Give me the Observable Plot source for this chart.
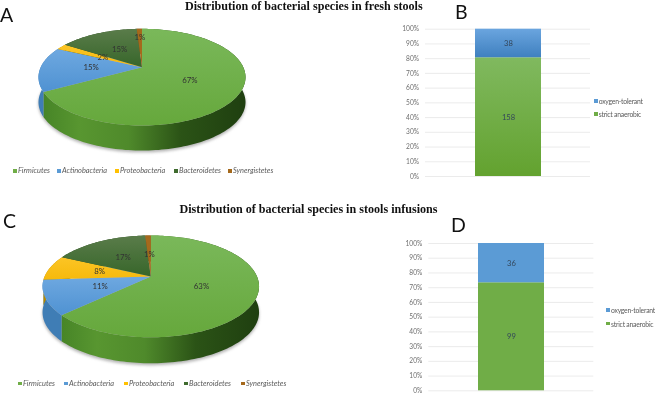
<!DOCTYPE html>
<html>
<head>
<meta charset="utf-8">
<script src="https://cdn.jsdelivr.net/npm/d3@7"></script>
<script src="https://cdn.jsdelivr.net/npm/@observablehq/plot@0.6"></script>
<style>
  html, body { margin: 0; padding: 0; background: #fff; }
  #page { position: relative; width: 655px; height: 393px; overflow: hidden; font-family: Lato, sans-serif; filter: blur(.35px); }
  #page > * { position: absolute; }
  .title { font: bold 12.1px "Liberation Serif", serif; color: #111; white-space: nowrap; }
  .letter { font: 19.5px Lato, sans-serif; color: #111; line-height: 20px; }
  .key { font-size: 6.8px; letter-spacing: -.22px; color: #5a5a5a; white-space: nowrap; line-height: 8px; }
  .key i.sw { position: absolute; left: -4.6px; top: 2px; width: 3.6px; height: 3.6px; }
  .key.sp { font-size: 7.4px; letter-spacing: 0; font-style: italic; }
</style>
</head>
<body>
<svg width="0" height="0" style="position:absolute">
  <defs>
    <linearGradient id="topGreen" x1="0" y1="0" x2="0" y2="1"><stop offset="0" stop-color="#7ab85a"/><stop offset="1" stop-color="#66a83c"/></linearGradient>
    <linearGradient id="topBlue" x1="0" y1="0" x2="0" y2="1"><stop offset="0" stop-color="#6ea8e0"/><stop offset="1" stop-color="#4f92d2"/></linearGradient>
    <linearGradient id="topYellow" x1="0" y1="0" x2="0" y2="1"><stop offset="0" stop-color="#fcc525"/><stop offset="1" stop-color="#f6b90c"/></linearGradient>
    <linearGradient id="topDark" x1="0" y1="0" x2="0" y2="1"><stop offset="0" stop-color="#5a7c4a"/><stop offset="1" stop-color="#37662a"/></linearGradient>
    <linearGradient id="sideGreen" x1="0" y1="0" x2="1" y2="0">
      <stop offset="0" stop-color="#478527"/><stop offset=".18" stop-color="#589630"/><stop offset=".42" stop-color="#4f8a2b"/>
      <stop offset=".68" stop-color="#2b5316"/><stop offset="1" stop-color="#1f3f10"/>
    </linearGradient>
    <linearGradient id="barBlueB" x1="0" y1="0" x2="0" y2="1"><stop offset="0" stop-color="#6aa5df"/><stop offset="1" stop-color="#3f80bf"/></linearGradient>
    <linearGradient id="barGreenB" x1="0" y1="0" x2="0" y2="1"><stop offset="0" stop-color="#80b95f"/><stop offset="1" stop-color="#63a22f"/></linearGradient>
  </defs>
</svg>
<div id="page"></div>
<script>
// ---- values ----
const species = ["Firmicutes", "Actinobacteria", "Proteobacteria", "Bacteroidetes", "Synergistetes"];
const freshShares = [67, 15, 2, 15, 1];
const infusionShares = [63, 11, 8, 17, 1];
const oxygenGroups = ["strict anaerobic", "oxygen-tolerant"];
const freshCounts = [158, 38];
const infusionCounts = [99, 36];
const percentTicks = [0, .1, .2, .3, .4, .5, .6, .7, .8, .9, 1];

// ---- styles ----
const speciesColors = ["#70ad47", "#5b9bd5", "#ffc000", "#3f6b2e", "#a5691c"];
const topFills = ["url(#topGreen)", "url(#topBlue)", "url(#topYellow)", "url(#topDark)", "#a5691c"];
const sideFills = ["url(#sideGreen)", "#3f7db5", "#b58900", "#2b4a20", "#7a4d14"];
const font = "Lato, sans-serif";
const page = document.getElementById("page");

function place(node, left, top) {
  node.style.left = left + "px";
  node.style.top = top + "px";
  page.append(node);
}
function html(cls, text, left, top) {
  const d = document.createElement("div");
  d.className = cls;
  d.textContent = text;
  place(d, left, top);
  return d;
}
function key(cls, text, color, left, top) {
  const d = html("key " + cls, text, left, top);
  const s = document.createElement("i");
  s.className = "sw";
  s.style.background = color;
  d.prepend(s);
}

// A tilted disc seen in perspective: u,v on the unit circle, k the tilt strength.
function project(u, v, k) {
  const w = 1 - k * v;
  return {x: u / w, y: v / w};
}

function pie(shares, o) {
  const arcs = d3.pie().sort(null)(shares);
  const rim = [];   // rim polygons of the top faces
  const side = [];  // wall polygons below them
  const labels = [];
  const step = Math.PI / 120;
  arcs.forEach((a, i) => {
    const name = species[i];
    const angles = d3.range(a.startAngle, a.endAngle, step).concat(a.endAngle);
    const pts = angles.map(t => project(Math.sin(t), -Math.cos(t), o.k));
    rim.push({key: name, x: 0, y: 0});
    pts.forEach(p => rim.push({key: name, x: p.x, y: p.y}));
    pts.forEach(p => side.push({key: name + " side", x: p.x, y: p.y}));
    pts.slice().reverse().forEach(p => side.push({key: name + " side", x: p.x, y: p.y + o.depth}));
    const mid = (a.startAngle + a.endAngle) / 2;
    const r = o.labelRadius[i];
    const c = project(r * Math.sin(mid), -r * Math.cos(mid), o.k);
    labels.push({x: c.x, y: c.y, text: shares[i] + "%"});
  });
  const outline = d3.range(0, 2 * Math.PI, step).map(t => {
    const p = project(Math.sin(t), -Math.cos(t), o.k);
    return {x: p.x, y: p.y + o.depth + .04};
  });
  const plot = Plot.plot({
    width: o.width, height: o.height,
    margin: 0,
    style: {fontFamily: font, background: "transparent"},
    x: {domain: [-1, 1], range: o.xRange, axis: null},
    y: {domain: [-1, 1], range: o.yRange, axis: null},
    color: {
      domain: [...species, ...species.map(s => s + " side")],
      range: [...topFills, ...sideFills]
    },
    marks: [
      Plot.line(outline, {x: "x", y: "y", fill: "#555", fillOpacity: .45, stroke: "none", imageFilter: "blur(1.6px)"}),
      Plot.line(side, {x: "x", y: "y", z: "key", fill: "key", stroke: "none"}),
      Plot.line(rim, {x: "x", y: "y", z: "key", fill: "key", stroke: "none"}),
      Plot.text(labels, {x: "x", y: "y", text: "text", fontSize: 7.8, fill: "#333"})
    ]
  });
  place(plot, o.left, o.top);
}

function bar(counts, o) {
  const rows = oxygenGroups.map((g, i) => ({sample: "all", group: g, count: counts[i]}));
  const plot = Plot.plot({
    width: o.width, height: o.height,
    marginLeft: o.marginLeft, marginRight: o.marginRight, marginTop: o.marginTop, marginBottom: o.marginBottom,
    style: {fontFamily: font, background: "transparent"},
    x: {domain: ["all"], range: o.barRange, padding: 0, axis: null},
    y: {domain: [0, 1], axis: null},
    color: {domain: oxygenGroups, range: o.fills},
    marks: [
      Plot.gridY(percentTicks, {stroke: "#e2e2e2", strokeOpacity: 1, strokeWidth: .7}),
      Plot.axisY({ticks: percentTicks, tickFormat: d3.format(".0%"), tickSize: 0, tickPadding: o.tickPadding,
                  label: null, fontSize: 6.6, fill: "#6e6e6e"}),
      Plot.barY(rows, Plot.stackY({x: "sample", y: "count", offset: "normalize", fill: "group"})),
      Plot.text(rows, Plot.stackY({x: "sample", y: "count", offset: "normalize", text: "count", fontSize: 7.6, fill: "#33465a"}))
    ]
  });
  place(plot, o.left, o.top);
}

pie(freshShares, {
  left: 0, top: 0, width: 330, height: 165,
  xRange: [40.2, 242.8], yRange: [20.4, 113], k: .206, depth: .54,
  labelRadius: [.52, .5, .46, .47, .74]
});
pie(infusionShares, {
  left: 0, top: 195, width: 330, height: 178,
  xRange: [44.1, 256.5], yRange: [32, 130], k: .194, depth: .53,
  labelRadius: [.5, .5, .5, .5, .5]
});
bar(freshCounts, {
  left: 330, top: 0, width: 325, height: 190,
  marginLeft: 95, marginRight: 65, marginTop: 28.7, marginBottom: 14,
  barRange: [144.3, 210.7], tickPadding: 6.5,
  fills: ["url(#barGreenB)", "url(#barBlueB)"]
});
bar(infusionCounts, {
  left: 330, top: 195, width: 325, height: 198,
  marginLeft: 98.3, marginRight: 61.7, marginTop: 48, marginBottom: 2.7,
  barRange: [147.7, 213.7], tickPadding: 6.5,
  fills: ["#70ad47", "#5b9bd5"]
});

html("title", "Distribution of bacterial species in fresh stools", 185, -1.5);
html("title", "Distribution of bacterial species in stools infusions", 179.5, 202);
html("letter", "A", 0, 5);
html("letter", "B", 455, 2);
html("letter", "C", 3, 211);
html("letter", "D", 451, 215);

[[18, 171], [62, 171], [120, 171], [179, 171], [233, 171]].forEach(([x, y], i) =>
  key("sp", species[i], speciesColors[i], x, y - 4));
[[23, 383.3], [69, 383.3], [129, 383.3], [189, 383.3], [246, 383.3]].forEach(([x, y], i) =>
  key("sp", species[i], speciesColors[i], x, y - 3.5));

key("", oxygenGroups[1], "#5b9bd5", 598.7, 97);
key("", oxygenGroups[0], "#70ad47", 598.7, 110);
key("", oxygenGroups[1], "#5b9bd5", 611, 306);
key("", oxygenGroups[0], "#70ad47", 611, 319.5);
</script>
</body>
</html>
